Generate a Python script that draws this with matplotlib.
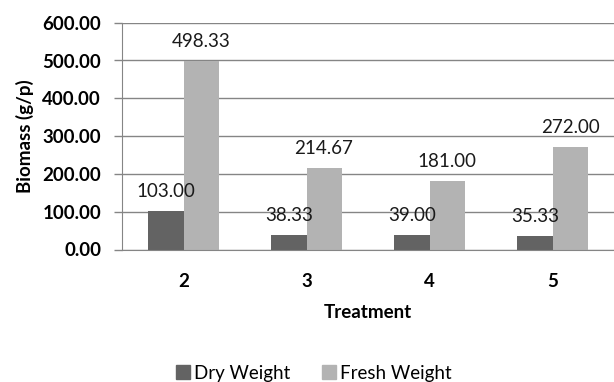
import numpy as np
import matplotlib.pyplot as plt
from matplotlib.patches import Patch

# Biomass per treatment
treatments = ['2', '3', '4', '5']
dry_weight = [103.00, 38.33, 39.00, 35.33]
fresh_weight = [498.33, 214.67, 181.00, 272.00]

dark = '#636363'
light = '#b3b3b3'
grid = '#858585'

plt.rcParams['font.family'] = ['Lato', 'DejaVu Sans']

fig = plt.figure(figsize=(6.14, 3.82), dpi=100)
ax = fig.add_axes([122 / 614, 1 - 249.5 / 382, 492 / 614, (249.5 - 22.7) / 382])

x = np.arange(len(treatments))
w = 0.285
bars_dry = ax.bar(x - w / 2, dry_weight, w, color=dark, zorder=2)
bars_fresh = ax.bar(x + w / 2, fresh_weight, w, color=light, zorder=2)

# value labels above each bar
for bars, vals in ((bars_dry, dry_weight), (bars_fresh, fresh_weight)):
    for b, v in zip(bars, vals):
        ax.annotate(f'{v:.2f}', (b.get_x() + b.get_width() / 2, v),
                    xytext=(0, 14), textcoords='offset points',
                    ha='center', va='center', fontsize=13.5, color='#1a1a1a', zorder=3)

ax.set_ylim(0, 600)
ax.set_xlim(-0.5, 3.5)
ax.set_yticks(np.arange(0, 601, 100))
ax.set_yticklabels([f'{t:.2f}' for t in range(0, 601, 100)], fontweight='bold', fontsize=13.5)
ax.set_xticks(x)
ax.set_xticklabels(treatments, fontweight='bold', fontsize=13.5)

ax.yaxis.grid(True, color=grid, linewidth=1, zorder=0)
ax.tick_params(axis='y', length=6, color=grid, width=1, pad=9)
ax.tick_params(axis='x', length=0, pad=17)
for side in ('top', 'right'):
    ax.spines[side].set_visible(False)
ax.spines['left'].set_color(grid)
ax.spines['bottom'].set_color(grid)
ax.spines['left'].set_zorder(1)

ax.set_ylabel('Biomass (g/p)', fontweight='bold', fontsize=13.5, labelpad=6)
ax.set_xlabel('Treatment', fontweight='bold', fontsize=13.5, labelpad=10)

handles = [Patch(color=dark), Patch(color=light)]
fig.legend(handles, ['Dry Weight', 'Fresh Weight'], loc='center',
           bbox_to_anchor=(314 / 614, 1 - 373 / 382), ncol=2, frameon=False,
           fontsize=13.5, handlelength=0.75, handleheight=0.75,
           handletextpad=0.2, columnspacing=1.7)

fig.savefig('out.png', dpi=100)
